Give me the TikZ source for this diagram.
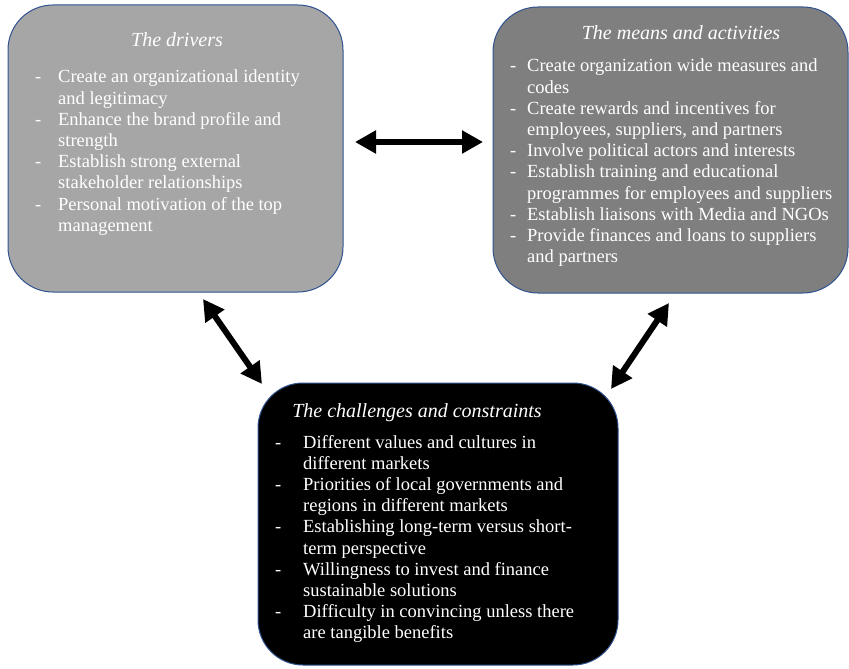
\documentclass[tikz,border=0pt]{standalone}
\usepackage{fontspec}
\setmainfont{Liberation Serif}
\usetikzlibrary{arrows.meta}
\definecolor{boxline}{HTML}{2F528F}
\definecolor{lightfill}{HTML}{A6A6A6}
\definecolor{darkfill}{HTML}{7F7F7F}
\begin{document}
\begin{tikzpicture}[x=1pt,y=-1pt,
  panel/.style={draw=boxline,line width=1pt,rounded corners=45pt,inner sep=0pt},
  ttl/.style={anchor=base,text=white,inner sep=0pt,font=\fontsize{20}{24}\selectfont\itshape},
  items/.style={anchor=base west,text=white,inner sep=0pt,font=\fontsize{18.5}{21.2}\selectfont},
  bigarrow/.style={line width=6pt,{Triangle[length=21pt,width=22pt]}-{Triangle[length=21pt,width=22pt]}}]
\useasboundingbox (0,0) rectangle (849,669);
% boxes
\node[panel,fill=lightfill,minimum width=335pt,minimum height=287pt] (drivers) at (175.5,148.5) {};
\node[panel,fill=darkfill,minimum width=355pt,minimum height=286pt] (means) at (670.5,150) {};
\node[panel,fill=black,minimum width=360pt,minimum height=282pt] (chall) at (438,524) {};
% titles
\node[ttl] (t1) at (177,47) {The drivers};
\node[ttl] (t2) at (681,40) {The means and activities};
\node[ttl] (t3) at (417,417) {The challenges and constraints};
% items
\node[items] (i1) at (35,83) {\begin{tabular}[t]{@{}p{23pt}@{}l@{}}
- & Create an organizational identity\\
  & and legitimacy\\
- & Enhance the brand profile and\\
  & strength\\
- & Establish strong external\\
  & stakeholder relationships\\
- & Personal motivation of the top\\
  & management
\end{tabular}};
\node[items] (i2) at (510,72) {\begin{tabular}[t]{@{}p{17pt}@{}l@{}}
- & Create organization wide measures and\\
  & codes\\
- & Create rewards and incentives for\\
  & employees, suppliers, and partners\\
- & Involve political actors and interests\\
- & Establish training and educational\\
  & programmes for employees and suppliers\\
- & Establish liaisons with Media and NGOs\\
- & Provide finances and loans to suppliers\\
  & and partners
\end{tabular}};
\node[items] (i3) at (275,448) {\begin{tabular}[t]{@{}p{28pt}@{}l@{}}
- & Different values and cultures in\\
  & different markets\\
- & Priorities of local governments and\\
  & regions in different markets\\
- & Establishing long-term versus short-\\
  & term perspective\\
- & Willingness to invest and finance\\
  & sustainable solutions\\
- & Difficulty in convincing unless there\\
  & are tangible benefits
\end{tabular}};
% arrow ends
\coordinate (hA) at (355,142);
\coordinate (hB) at (483,142);
\coordinate (lA) at (203,299);
\coordinate (lB) at (262,384);
\coordinate (rA) at (669,303);
\coordinate (rB) at (611,389);
\draw[bigarrow] (hA) -- (hB);
\draw[bigarrow] (lA) -- (lB);
\draw[bigarrow] (rA) -- (rB);
\end{tikzpicture}
\end{document}
